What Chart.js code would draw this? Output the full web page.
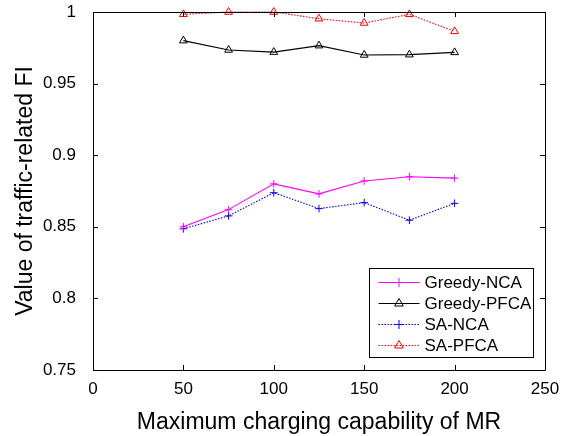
<!DOCTYPE html>
<html>
<head>
<meta charset="utf-8">
<script src="https://cdn.jsdelivr.net/npm/chart.js@4/dist/chart.umd.min.js"></script>
<style>
  html, body { margin: 0; padding: 0; background: #fff; }
  #wrap { width: 578px; height: 436px; }
</style>
</head>
<body>
<div id="wrap"><canvas id="fiChart" width="578" height="436"></canvas></div>
<script>
// Data
const mrCapability = [50, 75, 100, 125, 150, 175, 200];
const greedyNCA  = [0.850, 0.862, 0.880, 0.873, 0.882, 0.885, 0.884];
const greedyPFCA = [0.980, 0.9735, 0.972, 0.9765, 0.970, 0.9702, 0.9718];
const saNCA      = [0.8486, 0.8576, 0.8738, 0.8627, 0.8669, 0.8546, 0.8664];
const saPFCA     = [0.9984, 1.000, 1.000, 0.9953, 0.9923, 0.9984, 0.9865];
const xTickValues = [0, 50, 100, 150, 200, 250];
const yTickValues = [0.75, 0.8, 0.85, 0.9, 0.95, 1];

const FONT = '"Liberation Sans", Arial, Helvetica, sans-serif';

function toPoints(values) {
    return mrCapability.map((x, i) => ({ x: x, y: values[i] }));
}

function makeSeries(label, values, color, marker, dashed) {
    return {
        label: label,
        data: toPoints(values),
        borderColor: color,
        backgroundColor: 'transparent',
        borderWidth: 1.1,
        borderDash: dashed ? [1.5, 1.5] : [],
        pointStyle: marker,
        pointRadius: marker === 'triangle' ? 4.5 : 3.8,
        pointBorderColor: color,
        pointBackgroundColor: 'transparent',
        pointBorderWidth: 1,
        tension: 0,
        fill: false,
        clip: false
    };
}

/**
 * Box round the plot with inward ticks (MATLAB style)
 */
const boxPlugin = {
    id: 'boxPlugin',
    afterDraw(chart) {
        const ctx = chart.ctx;
        const a = chart.chartArea;
        const xs = chart.scales.x;
        const ys = chart.scales.y;
        const len = 5;
        ctx.save();
        ctx.strokeStyle = '#000';
        ctx.lineWidth = 1;
        ctx.beginPath();
        ctx.rect(Math.round(a.left) + 0.5, Math.round(a.top) + 0.5,
                 Math.round(a.right - a.left), Math.round(a.bottom - a.top));
        xTickValues.forEach(v => {
            const px = Math.round(xs.getPixelForValue(v)) + 0.5;
            ctx.moveTo(px, a.bottom); ctx.lineTo(px, a.bottom - len);
            ctx.moveTo(px, a.top); ctx.lineTo(px, a.top + len);
        });
        yTickValues.forEach(v => {
            const py = Math.round(ys.getPixelForValue(v)) + 0.5;
            ctx.moveTo(a.left, py); ctx.lineTo(a.left + len, py);
            ctx.moveTo(a.right, py); ctx.lineTo(a.right - len, py);
        });
        ctx.stroke();
        ctx.restore();
    }
};

/**
 * Legend box with line + marker samples
 */
const legendPlugin = {
    id: 'legendPlugin',
    afterDraw(chart) {
        const ctx = chart.ctx;
        const a = chart.chartArea;
        const boxW = 164, boxH = 89;
        const left = Math.round(a.right - 12 - boxW) + 0.5;
        const top = Math.round(a.bottom - 13 - boxH) + 0.5;
        ctx.save();
        ctx.fillStyle = '#fff';
        ctx.fillRect(left, top, boxW, boxH);
        ctx.strokeStyle = '#000';
        ctx.lineWidth = 1;
        ctx.strokeRect(left, top, boxW, boxH);
        ctx.font = '17px ' + FONT;
        ctx.textBaseline = 'middle';
        chart.data.datasets.forEach((ds, i) => {
            const y = Math.round(top + 13 + i * 21.3) + 0.5;
            const x0 = left + 9, x1 = left + 50;
            ctx.strokeStyle = ds.borderColor;
            ctx.lineWidth = 1;
            ctx.setLineDash(ds.borderDash);
            ctx.beginPath();
            ctx.moveTo(x0, y); ctx.lineTo(x1, y);
            ctx.stroke();
            ctx.setLineDash([]);
            ctx.fillStyle = 'rgba(0,0,0,0)';
            Chart.helpers.drawPoint(ctx, {
                pointStyle: ds.pointStyle,
                radius: ds.pointStyle === 'triangle' ? 5 : 4.5,
                borderWidth: 1,
                rotation: 0
            }, (x0 + x1) / 2, y);
            ctx.fillStyle = '#000';
            ctx.fillText(ds.label, left + 55, y + 1);
        });
        ctx.restore();
    }
};

new Chart(document.getElementById('fiChart'), {
    type: 'line',
    data: {
        datasets: [
            makeSeries('Greedy-NCA', greedyNCA, '#ff00ff', 'cross', false),
            makeSeries('Greedy-PFCA', greedyPFCA, '#000000', 'triangle', false),
            makeSeries('SA-NCA', saNCA, '#0000ff', 'cross', true),
            makeSeries('SA-PFCA', saPFCA, '#ff0000', 'triangle', true)
        ]
    },
    options: {
        responsive: false,
        animation: false,
        devicePixelRatio: 1,
        layout: { padding: { left: 0, right: 33, top: 12, bottom: 0 } },
        plugins: {
            legend: { display: false },
            tooltip: { enabled: false }
        },
        scales: {
            x: {
                type: 'linear',
                min: 0,
                max: 250,
                afterBuildTicks: scale => { scale.ticks = xTickValues.map(v => ({ value: v })); },
                afterFit: scale => {
                    scale.height = 66;
                    scale.paddingLeft = 0;
                    scale.paddingRight = 0;
                },
                grid: { display: false },
                border: { display: false },
                ticks: {
                    color: '#000',
                    padding: 1,
                    maxRotation: 0,
                    font: { family: FONT, size: 17 }
                },
                title: {
                    display: true,
                    text: 'Maximum charging capability of MR',
                    color: '#000',
                    padding: { top: 0, bottom: 0 },
                    font: { family: FONT, size: 23 }
                }
            },
            y: {
                type: 'linear',
                min: 0.75,
                max: 1,
                afterBuildTicks: scale => { scale.ticks = yTickValues.map(v => ({ value: v })); },
                afterFit: scale => {
                    scale.width = 93;
                    scale.paddingTop = 0;
                    scale.paddingBottom = 0;
                },
                grid: { display: false },
                border: { display: false },
                ticks: {
                    color: '#000',
                    padding: 9,
                    font: { family: FONT, size: 17 },
                    callback: v => String(Math.round(v * 100) / 100)
                },
                title: {
                    display: true,
                    text: 'Value of traffic-related FI',
                    color: '#000',
                    padding: 12,
                    font: { family: FONT, size: 23 }
                }
            }
        }
    },
    plugins: [boxPlugin, legendPlugin]
});
</script>
</body>
</html>
